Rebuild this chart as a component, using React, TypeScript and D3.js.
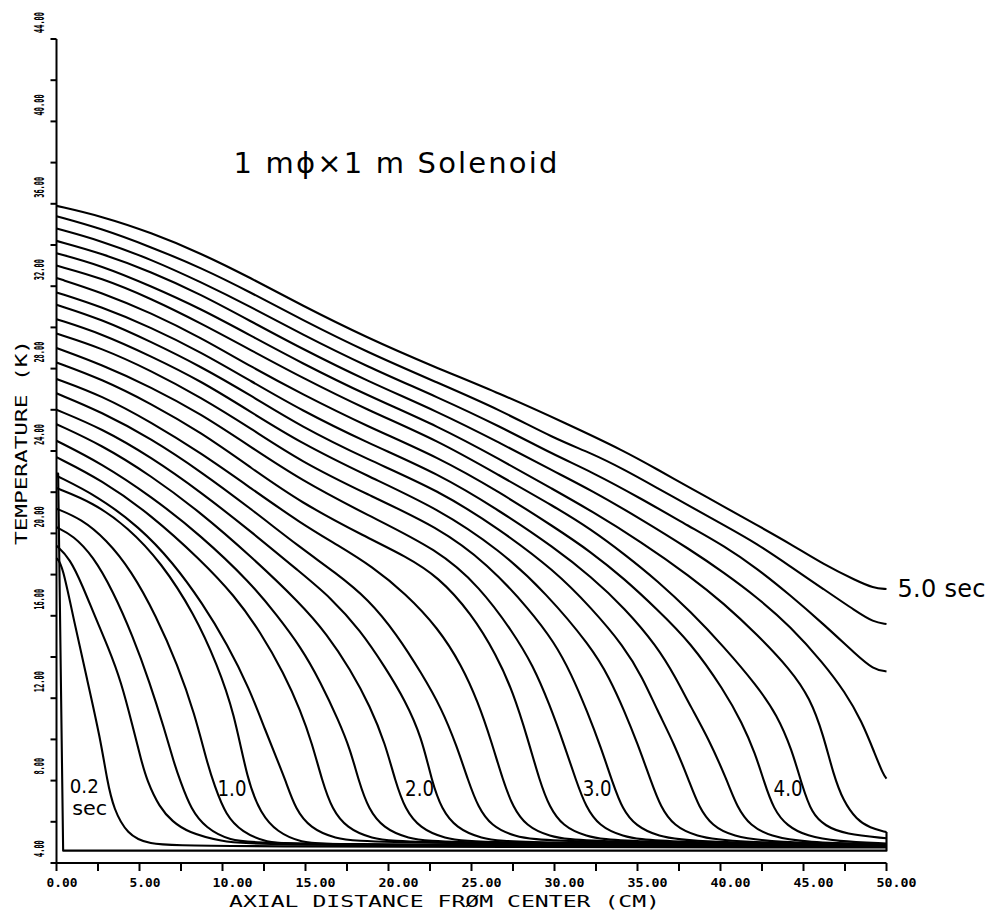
import React from 'react';
import * as d3 from 'd3';

const W = 989;
const H = 913;

// temperature profiles [axial distance (cm), temperature (K)], 0.2 sec steps
const c50 = [[0,35.9],[2.7,35.4],[5.7,34.6],[8.7,33.6],[11.7,32.4],[14.7,31.1],[18.7,29.5],[22.7,28.1],[26.7,26.8],[30.8,25.3],[34.2,24.0],[36.2,23.1],[38.2,22.2],[40.2,21.3],[42.2,20.4],[44.2,19.5],[46.2,18.5],[48.2,17.7],[49.2,17.35],[50,17.3]];
const c48 = [[0,35.4],[2.7,34.8],[5.7,33.9],[8.7,32.9],[11.7,31.7],[14.7,30.4],[18.7,28.8],[23,27.3],[26.7,26.0],[30,24.6],[32.2,23.9],[34.2,23.1],[36.2,22.2],[38.2,21.3],[40.2,20.4],[42.2,19.5],[44.2,18.4],[46.2,17.3],[48.2,16.2],[49.2,15.7],[50,15.6]];
const c46 = [[0,34.8],[2.7,34.2],[5.7,33.3],[8.7,32.2],[11.7,31.0],[14.7,29.7],[18.7,28.1],[23,26.6],[26.7,25.2],[30,23.8],[32.2,23.0],[35.2,21.7],[38.2,20.3],[40.2,19.4],[42.2,18.3],[44.2,17.0],[46.2,15.6],[48.2,14.1],[49.2,13.4],[50,13.3]];
const c44 = [[0,34.2],[2.7,33.6],[5.7,32.7],[8.7,31.6],[11.7,30.3],[14.7,29.0],[18.7,27.4],[23,25.9],[26.7,24.4],[30,23.0],[32.2,22.1],[35.2,20.7],[38.2,19.2],[40.2,18.1],[42.2,16.9],[44.2,15.5],[46.2,13.7],[47.5,12.3],[48.5,10.9],[49.3,9.3],[49.8,8.3],[50,8.1]];
const c42 = [[0,33.6],[2.7,33.0],[5.7,32.0],[8.7,30.9],[11.7,29.6],[14.7,28.3],[18.7,26.7],[23,25.2],[26.7,23.6],[30,22.1],[32.2,21.1],[35.2,19.6],[38.2,17.9],[40.2,16.6],[42.2,15.1],[44.2,13.4],[45.4,12.0],[46.2,10.2],[46.8,8.3],[47.4,7.0],[48.2,6.1],[49,5.7],[50,5.5]];
const c40 = [[0,33.0],[2.7,32.4],[5.7,31.4],[8.7,30.2],[11.7,28.9],[14.7,27.6],[18.7,26.0],[23,24.5],[26.7,22.8],[30,21.3],[32.2,20.2],[34.2,19.0],[36.2,17.7],[38.2,16.2],[40.2,14.5],[42.2,12.6],[43.4,11.2],[44.3,9.5],[44.9,7.8],[45.5,6.4],[46.3,5.8],[47.5,5.4],[50,5.2]];
const c38 = [[0,32.4],[2.7,31.7],[5.7,30.7],[8.7,29.5],[11.7,28.1],[14.7,26.8],[18.7,25.2],[23,23.7],[26.7,22.0],[30,20.3],[32.2,19.1],[34.2,17.8],[36.2,16.3],[38.2,14.7],[40.2,12.4],[41.3,10.8],[42.1,9.3],[42.6,8.0],[43.2,6.6],[44,5.8],[45.2,5.3],[47,5.05],[50,4.95]];
const c36 = [[0,31.7],[2.7,31.0],[5.7,30.0],[8.7,28.8],[11.7,27.4],[14.7,26.0],[18.7,24.4],[23,22.9],[26.7,21.1],[30,19.3],[32.2,17.9],[34.2,16.4],[36.2,14.5],[37.3,13.0],[38.2,11.6],[39.3,10.0],[40.4,8.0],[41,6.7],[41.8,5.8],[43,5.3],[45,5.0],[50,4.9]];
const c34 = [[0,31.1],[2.7,30.4],[5.7,29.3],[8.7,28.1],[11.7,26.7],[14.7,25.2],[18.7,23.6],[23,22.1],[26.7,20.2],[30,18.2],[32.2,16.4],[34.2,14.5],[35.3,13.0],[36.2,11.4],[37.2,9.8],[38.1,8.0],[38.7,6.7],[39.5,5.8],[40.7,5.3],[43,5.0],[50,4.9]];
const c32 = [[0,30.4],[2.7,29.7],[5.7,28.6],[8.7,27.4],[11.7,25.9],[14.7,24.4],[18.7,22.8],[23,21.2],[26.7,19.2],[29.5,17.1],[32.2,14.5],[33.3,13.0],[34.2,11.4],[35,9.8],[35.8,8.0],[36.4,6.7],[37.2,5.8],[38.5,5.3],[40.5,5.0],[50,4.9]];
const c30 = [[0,29.7],[2.7,29.0],[5.7,27.9],[8.7,26.6],[11.7,25.1],[14.7,23.5],[18.7,21.9],[23,20.3],[26,18.5],[28.5,16.3],[30,14.7],[31,13.2],[32,11.3],[32.8,9.6],[33.5,7.9],[34.1,6.6],[34.9,5.8],[36.2,5.3],[38.2,5.0],[50,4.85]];
const c28 = [[0,29.0],[2.7,28.2],[5.7,27.1],[8.7,25.8],[11.7,24.2],[14.7,22.6],[18.7,20.9],[23,19.2],[25.5,17.4],[27.5,15.2],[28.7,13.6],[29.7,11.7],[30.6,9.7],[31.3,8.0],[31.9,6.7],[32.7,5.8],[34,5.3],[36,5.0],[50,4.85]];
const c26 = [[0,28.3],[2.7,27.5],[5.7,26.3],[8.7,24.9],[11.7,23.2],[14.7,21.5],[18.7,19.8],[21,18.9],[23,17.9],[25,16.1],[26.5,14.1],[27.5,12.3],[28.4,10.0],[29.1,8.0],[29.7,6.7],[30.5,5.8],[31.8,5.3],[33.8,5.0],[50,4.85]];
const c24 = [[0,27.5],[2.7,26.7],[5.7,25.4],[8.7,23.9],[11.7,22.2],[14.7,20.5],[17,19.4],[19,18.4],[21,17.1],[23,15.4],[24.4,13.6],[25.4,11.8],[26.2,9.9],[26.9,8.0],[27.5,6.7],[28.3,5.8],[29.6,5.3],[31.6,5.0],[50,4.85]];
const c22 = [[0,26.8],[2.7,25.9],[5.7,24.6],[8.7,23.0],[11.7,21.2],[14.7,19.3],[16.8,18.1],[18.8,16.8],[20.5,15.1],[22,13.2],[23.2,11.5],[24.1,9.7],[24.8,8.0],[25.4,6.7],[26.2,5.8],[27.5,5.3],[29.5,5.0],[50,4.85]];
const c20 = [[0,26.0],[2.7,25.1],[5.7,23.7],[8.7,22.0],[11.7,20.1],[14.7,18.1],[16.5,16.9],[18.3,15.3],[19.8,13.5],[21,11.9],[22,10.1],[22.6,8.0],[23.2,6.6],[24.1,5.7],[25.5,5.2],[27.5,4.95],[50,4.85]];
const c18 = [[0,25.3],[2.7,24.3],[5.7,22.8],[8.7,21.0],[11.7,18.9],[14.7,16.6],[16.3,15.1],[17.7,13.4],[18.9,11.6],[19.8,9.8],[20.4,8.0],[21,6.6],[21.9,5.7],[23.3,5.2],[25.3,4.95],[50,4.85]];
const c16 = [[0,24.5],[2.7,23.4],[5.7,21.8],[8.7,19.9],[11.7,17.6],[13.3,16.0],[14.7,14.5],[15.9,12.8],[17,10.9],[17.7,9.5],[18.2,8.0],[18.8,6.6],[19.7,5.7],[21.1,5.2],[23.1,4.95],[50,4.85]];
const c14 = [[0,23.7],[2.7,22.6],[5.7,20.9],[8.7,18.7],[10.7,17.0],[12.3,15.2],[13.7,13.2],[14.7,11.4],[15.4,9.8],[16.0,8.0],[16.6,6.6],[17.5,5.7],[18.9,5.2],[20.9,4.95],[50,4.85]];
const c12 = [[0,22.8],[2.5,21.8],[5,20.3],[7,18.6],[8.8,16.6],[10.3,14.6],[11.6,12.5],[12.6,10.4],[13.3,9.0],[13.8,8.0],[14.4,6.6],[15.3,5.7],[16.7,5.2],[18.7,4.95],[50,4.85]];
const c10 = [[0,22.2],[2.2,21.5],[4.3,20.3],[6.3,18.6],[8.3,16.1],[9.7,13.6],[10.7,11.3],[11.5,8.0],[12.3,6.4],[13.3,5.5],[14.7,5.0],[16.5,4.85],[50,4.8]];
const c08 = [[0,21.2],[1.5,20.7],[3,19.7],[4.5,18.2],[6,16.0],[7.3,13.6],[8.3,11.3],[9.1,8.8],[9.5,7.8],[10.2,6.3],[11.2,5.5],[12.6,5.0],[14.5,4.85],[50,4.8]];
const c06 = [[0,20.3],[1,19.9],[2.2,18.9],[3.4,17.2],[4.6,15.0],[5.6,12.8],[6.5,10.5],[7.1,8.8],[7.45,8.0],[8.1,6.6],[9.0,5.7],[10.4,5.1],[12.3,4.9],[50,4.8]];
const c04 = [[0,19.4],[0.8,18.8],[1.6,17.4],[2.3,16.0],[3.1,14.5],[3.9,12.8],[4.6,10.6],[5.1,9.0],[5.45,8.0],[6.2,6.7],[7.0,6.0],[7.9,5.5],[9.9,5.05],[12,4.85],[50,4.8]];
const c02 = [[0,18.8],[0.35,18.5],[1.04,15.8],[1.85,12.9],[2.65,10.0],[3.05,8.0],[3.45,6.6],[4.26,5.4],[5.46,4.9],[8,4.8],[50,4.75]];
// initial hot spot at the centre, drawn straight
const c00 = [[0,22.9],[0.1,22.9],[0.4,4.6],[50,4.6],[50,5.5]];

const profiles = [c50, c48, c46, c44, c42, c40, c38, c36, c34, c32, c30, c28, c26, c24, c22, c20, c18, c16, c14, c12, c10, c08, c06, c04, c02];

const xMajor = [0, 5, 10, 15, 20, 25, 30, 35, 40, 45, 50];
const xLabels = ['0.00', '5.00', '10.00', '15.00', '20.00', '25.00', '30.00', '35.00', '40.00', '45.00', '50.00'];
const xMinor = [2.5, 7.5, 12.5, 17.5, 22.5, 27.5, 32.5, 37.5, 42.5, 47.5];
const yMajor = [4, 8, 12, 16, 20, 24, 28, 32, 36, 40, 44];
const yLabels = ['4.00', '8.00', '12.00', '16.00', '20.00', '24.00', '28.00', '32.00', '36.00', '40.00', '44.00'];
const yMinor = [6, 10, 14, 18, 22, 26, 30, 34, 38, 42];

// curve annotations [text, x (cm), temperature (K), font size]
const notes: [string, number, number, number][] = [
  ['0.2', 0.8, 7.4, 19],
  ['sec', 0.95, 6.35, 19],
  ['1.0', 9.7, 7.25, 22],
  ['2.0', 21.0, 7.25, 22],
  ['3.0', 31.7, 7.25, 22],
  ['4.0', 43.2, 7.25, 22],
];

const mono = '"DejaVu Sans Mono", monospace';
const sans = '"DejaVu Sans", sans-serif';

export default function App() {
  const x = d3.scaleLinear().domain([0, 50]).range([56.5, 886.5]);
  const y = d3.scaleLinear().domain([4, 44]).range([863, 39]);
  const line = d3
    .line<number[]>()
    .x(d => x(d[0]))
    .y(d => y(d[1]))
    .curve(d3.curveBasis);
  const raw = d3
    .line<number[]>()
    .x(d => x(d[0]))
    .y(d => y(d[1]));

  return (
    <svg width={W} height={H} style={{ position: 'absolute', left: 0, top: 0, background: '#fff' }}>
      <g fill="none" stroke="#000" strokeWidth={2.1} strokeLinejoin="round">
        {profiles.map((p, i) => (
          <path key={i} d={line(p) || ''} />
        ))}
        <path d={raw(c00) || ''} />
      </g>

      {/* axes */}
      <g stroke="#000" strokeWidth={2}>
        <line x1={x(0)} x2={x(0)} y1={y(44)} y2={y(4)} />
        <line x1={x(0)} x2={x(50)} y1={y(4)} y2={y(4)} />
        {yMajor.concat(yMinor).map(v => (
          <line key={'yt' + v} x1={x(0) - 6} x2={x(0)} y1={y(v)} y2={y(v)} />
        ))}
        {xMajor.concat(xMinor).map(v => (
          <line key={'xt' + v} x1={x(v)} x2={x(v)} y1={y(4)} y2={y(4) + 8} />
        ))}
      </g>

      <g fontFamily={mono} fontWeight="bold" fontSize={12} fill="#000">
        {xMajor.map((v, i) => (
          <text key={'xl' + v} x={x(v) - 10} y={887} textLength={xLabels[i].length === 4 ? 31 : 40} lengthAdjust="spacingAndGlyphs">
            {xLabels[i]}
          </text>
        ))}
        {/* compressed, rotated tick labels */}
        {yMajor.map((v, i) => (
          <text key={'yl' + v} transform={`translate(44,${y(v) - 6}) rotate(-90) scale(0.5,1)`} fontSize={14}>
            {yLabels[i]}
          </text>
        ))}
        <text x={229} y={907} fontSize={16} fontWeight="normal" textLength={431} lengthAdjust="spacingAndGlyphs">
          AXIAL DISTANCE FRØM CENTER (CM)
        </text>
        <text
          transform="translate(27,545) rotate(-90)"
          fontSize={16}
          fontWeight="normal"
          textLength={205}
          lengthAdjust="spacingAndGlyphs"
        >
          TEMPERATURE (K)
        </text>
      </g>

      <g fontFamily={sans} fill="#000">
        <text x={x(10.66)} y={y(37.5)} fontSize={29} textLength={324} lengthAdjust="spacing">
          1 mϕ×1 m Solenoid
        </text>
        <text x={x(50.66)} y={y(16.9)} fontSize={24} textLength={88} lengthAdjust="spacing">
          5.0 sec
        </text>
        {notes.map(([t, nx, ny, fs]) => (
          <text key={t} x={x(nx)} y={y(ny)} fontSize={fs} textLength={t === 'sec' ? 35 : 29} lengthAdjust="spacingAndGlyphs">
            {t}
          </text>
        ))}
      </g>
    </svg>
  );
}
